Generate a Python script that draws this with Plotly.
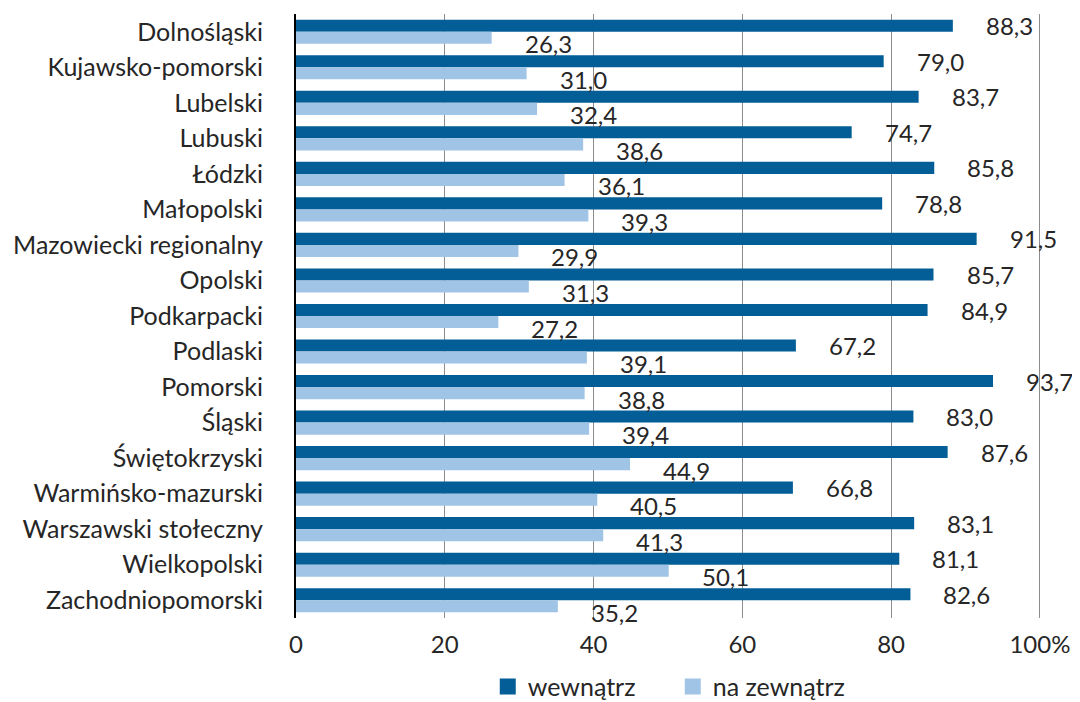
import plotly.graph_objects as go

categories = ["Dolnośląski", "Kujawsko-pomorski", "Lubelski", "Lubuski", "Łódzki",
              "Małopolski", "Mazowiecki regionalny", "Opolski", "Podkarpacki", "Podlaski",
              "Pomorski", "Śląski", "Świętokrzyski", "Warmińsko-mazurski",
              "Warszawski stołeczny", "Wielkopolski", "Zachodniopomorski"]
wewnatrz = [88.3, 79.0, 83.7, 74.7, 85.8, 78.8, 91.5, 85.7, 84.9, 67.2, 93.7, 83.0,
            87.6, 66.8, 83.1, 81.1, 82.6]
na_zewnatrz = [26.3, 31.0, 32.4, 38.6, 36.1, 39.3, 29.9, 31.3, 27.2, 39.1, 38.8, 39.4,
               44.9, 40.5, 41.3, 50.1, 35.2]
tick_vals = [0, 20, 40, 60, 80, 100]
tick_text = ["0", "20", "40", "60", "80", "100%"]

DARK = "#035d96"
LIGHT = "#a0c4e6"
FONT = "Lato"
TXT = "#262626"

fig = go.Figure()
fig.add_trace(go.Bar(y=categories, x=wewnatrz, orientation="h", name="wewnątrz",
                     marker=dict(color=DARK, line=dict(width=0)), showlegend=False))
fig.add_trace(go.Bar(y=categories, x=na_zewnatrz, orientation="h", name="na zewnątrz",
                     marker=dict(color=LIGHT, line=dict(width=0)), showlegend=False))
# legend entries with square swatches
fig.add_trace(go.Scatter(x=[None], y=[None], mode="markers", name="wewnątrz",
                         marker=dict(symbol="square", size=26, color=DARK)))
fig.add_trace(go.Scatter(x=[None], y=[None], mode="markers", name="na zewnątrz",
                         marker=dict(symbol="square", size=26, color=LIGHT)))

def fmt(v):
    return f"{v:.1f}".replace(".", ",")

for c, a, b in zip(categories, wewnatrz, na_zewnatrz):
    fig.add_annotation(x=a, y=c, text=fmt(a), showarrow=False, xanchor="left",
                       xshift=31, yshift=6, font=dict(size=24, color=TXT, family=FONT))
    fig.add_annotation(x=b, y=c, text=fmt(b), showarrow=False, xanchor="left",
                       xshift=31, yshift=-12, font=dict(size=24, color=TXT, family=FONT))

fig.update_layout(
    width=1072, height=694,
    margin=dict(l=288, r=39, t=6, b=84, autoexpand=False),
    barmode="group", bargap=0.32, bargroupgap=0,
    plot_bgcolor="white", paper_bgcolor="white",
    font=dict(family=FONT, size=24, color=TXT),
    showlegend=True,
    legend=dict(orientation="h", x=0.2574, xanchor="left",
                y=-0.114, yanchor="middle",
                font=dict(size=25, color=TXT), traceorder="normal",
                entrywidth=140, entrywidthmode="pixels",
                itemwidth=30, bgcolor="rgba(0,0,0,0)"),
    xaxis=dict(range=[0, 100.15], tickvals=tick_vals, ticktext=tick_text,
               showgrid=True, gridcolor="#8c8c8c", gridwidth=1, automargin=False,
               zeroline=False, showline=False, ticks="", ticklabelstandoff=10,
               tickfont=dict(size=24, color=TXT)),
    yaxis=dict(range=[16.5, -0.5], autorange=False, showline=True, linecolor="#000000",
               linewidth=2, ticks="", showgrid=False, ticklabelstandoff=26,
               automargin=False, tickfont=dict(size=25, color=TXT)),
)

fig.write_html("out.html")
